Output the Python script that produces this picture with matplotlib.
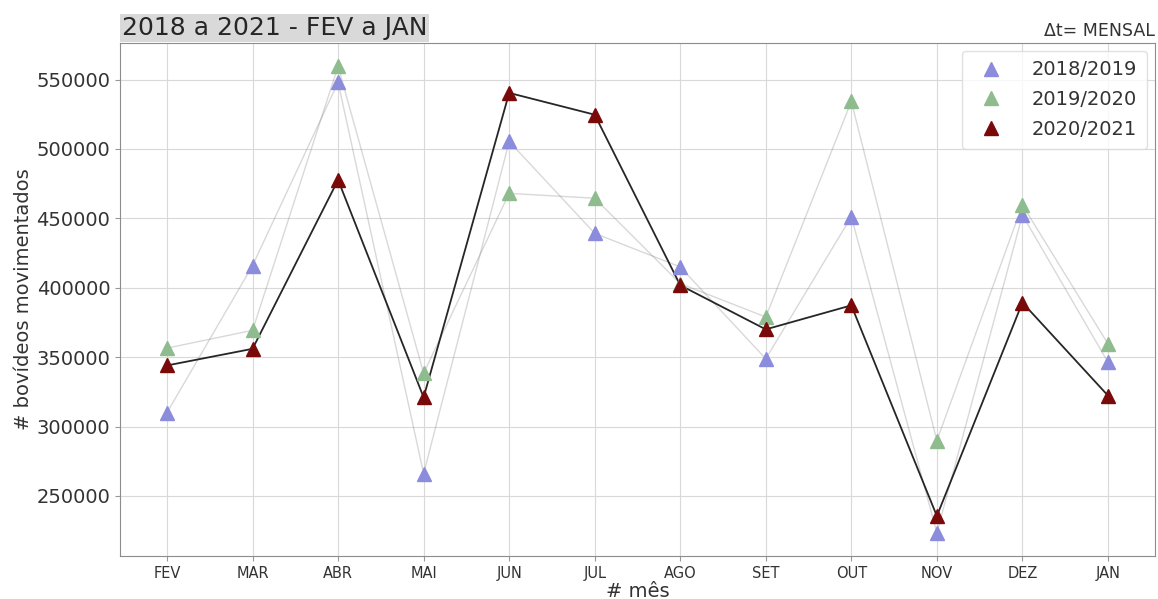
import matplotlib.pyplot as plt
import numpy as np

# monthly cattle movements, FEV..JAN, one series per season
meses = ['FEV', 'MAR', 'ABR', 'MAI', 'JUN', 'JUL', 'AGO', 'SET', 'OUT', 'NOV', 'DEZ', 'JAN']
s_2018_2019 = [310000, 416000, 548000, 266000, 505400, 439200, 415000, 348800, 451200, 223500, 452400, 346400]
s_2019_2020 = [356500, 369300, 559600, 338400, 468000, 464500, 403000, 378900, 534300, 289800, 459600, 359600]
s_2020_2021 = [344000, 356000, 477700, 321000, 540400, 524700, 401800, 370000, 387300, 235500, 389300, 322300]

fig = plt.figure(figsize=(11.58, 5.99), dpi=100)
ax = fig.add_axes([0.1036, 0.0718, 0.8938, 0.8565])

x = np.arange(len(meses))

ax.plot(x, s_2018_2019, color='0.5', lw=1.0, alpha=0.3, zorder=2)
ax.plot(x, s_2019_2020, color='0.5', lw=1.0, alpha=0.3, zorder=2)
ax.plot(x, s_2020_2021, color='0.15', lw=1.3, zorder=3)

ax.plot(x, s_2018_2019, '^', ms=10, color='#8c8cdc', ls='none', label='2018/2019', zorder=4)
ax.plot(x, s_2019_2020, '^', ms=10, color='#8fbc8f', ls='none', label='2019/2020', zorder=4)
ax.plot(x, s_2020_2021, '^', ms=10, color='#7a0a0a', ls='none', label='2020/2021', zorder=5)

ax.set_xticks(x)
ax.set_xticklabels(meses, fontsize=10.5, color='0.2')
ax.tick_params(axis='y', labelsize=14, labelcolor='0.2', color='0.6')
ax.tick_params(axis='x', color='0.6')
ax.set_xlabel('# mês', fontsize=14, color='0.2', labelpad=1)
ax.set_ylabel('# bovídeos movimentados', fontsize=14, color='0.2', labelpad=2)

ax.grid(True, color='0.85', lw=0.8)
ax.set_axisbelow(True)
for sp in ax.spines.values():
    sp.set_color('0.55')

leg = ax.legend(loc='upper right', fontsize=14, frameon=True, handletextpad=1.1,
                labelspacing=0.55, borderaxespad=0.4, borderpad=0.5)
for t in leg.get_texts():
    t.set_color('0.2')
leg.get_frame().set_edgecolor('0.85')

ax.text(0.0015, 1.006, '2018 a 2021 - FEV a JAN', transform=ax.transAxes,
        fontsize=18, color='0.15', ha='left', va='bottom',
        bbox=dict(facecolor='0.85', edgecolor='none', pad=1.5))
ax.text(1.0, 1.006, 'Δt= MENSAL', transform=ax.transAxes,
        fontsize=12.5, color='0.2', ha='right', va='bottom')

fig.savefig('out.png', dpi=100)
